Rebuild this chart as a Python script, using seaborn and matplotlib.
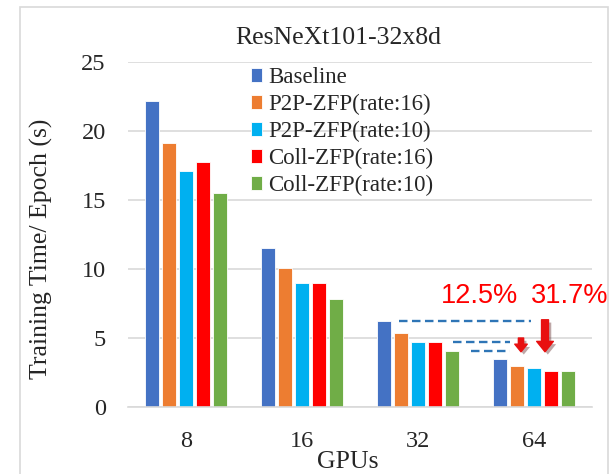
import matplotlib
matplotlib.use("Agg")
import matplotlib.pyplot as plt
import matplotlib.patheffects as pe
from matplotlib.patches import Rectangle
import seaborn as sns
import pandas as pd

# ---- data ----
gpus = ["8", "16", "32", "64"]
methods = ["Baseline", "P2P-ZFP(rate:16)", "P2P-ZFP(rate:10)",
           "Coll-ZFP(rate:16)", "Coll-ZFP(rate:10)"]
baseline = [22.2, 11.5, 6.2, 3.45]
p2p_16 = [19.1, 10.1, 5.35, 3.0]
p2p_10 = [17.1, 8.95, 4.7, 2.85]
coll_16 = [17.75, 9.0, 4.7, 2.6]
coll_10 = [15.5, 7.8, 4.05, 2.6]
colors = ["#4472C4", "#ED7D31", "#00B0F0", "#FF0000", "#70AD47"]
yticks = [0, 5, 10, 15, 20, 25]
pct_labels = ["12.5%", "31.7%"]

series = [baseline, p2p_16, p2p_10, coll_16, coll_10]
rows = []
for m, vals in zip(methods, series):
    for g, v in zip(gpus, vals):
        rows.append({"GPUs": g, "Method": m, "Time": v})
df = pd.DataFrame(rows)

sns.set_theme(style="white")
plt.rcParams["font.family"] = ["Liberation Serif", "DejaVu Serif"]

fig = plt.figure(figsize=(6.10, 4.74), dpi=100)
ax = fig.add_axes([128/610, 1-407/474, 464/610, 345/474])

sns.barplot(data=df, x="GPUs", y="Time", hue="Method", order=gpus,
            hue_order=methods, palette=colors, saturation=1,
            width=0.74, gap=0.2, edgecolor="white", linewidth=0.6, ax=ax)

ax.set_ylim(0, 25)
ax.set_xlim(-0.5, 3.5)
ax.set_yticks(yticks)
ax.set_yticklabels([str(t) for t in yticks])
ax.yaxis.grid(True, color="#D9D9D9", linewidth=1.2)
ax.set_axisbelow(True)
for s in ["left", "right", "top"]:
    ax.spines[s].set_visible(False)
ax.spines["bottom"].set_color("#D9D9D9")
ax.spines["bottom"].set_linewidth(1.2)
ax.tick_params(axis="y", length=0, pad=16, labelsize=17.5)
ax.tick_params(axis="x", length=0, pad=17, labelsize=17.5)

ax.set_xlabel("GPUs", fontsize=18.5)
ax.xaxis.set_label_coords((348-128)/464, -0.128)
ax.set_ylabel("Training Time/ Epoch (s)", fontsize=18.5, va="center")
ax.yaxis.set_label_coords((41-128)/464, (407-249)/345)

fig.text(338/610, 1-38/474, "ResNeXt101-32x8d", fontsize=18.5,
         ha="center", va="center")

leg = ax.legend(loc="upper left", bbox_to_anchor=((251-128)/464, 1 - 5/345),
                frameon=False, fontsize=16.5, handlelength=0.5,
                handleheight=0.55, handletextpad=0.25, labelspacing=0.26,
                borderpad=0, borderaxespad=0)

# ---- annotations ----
dash_kw = dict(color="#2E75B6", linewidth=1.7, linestyle=(0, (3.6, 1.9)))
ax.plot([1.836, 2.974], [baseline[2], baseline[2]], **dash_kw)
ax.plot([2.302, 2.793], [coll_16[2], coll_16[2]], **dash_kw)
ax.plot([2.457, 2.793], [coll_10[2], coll_10[2]], **dash_kw)

shadow = [pe.SimplePatchShadow(offset=(2, -2), alpha=0.35), pe.Normal()]
ax.annotate("", xy=(2.888, coll_10[2] - 0.05), xytext=(2.888, 5.0),
            arrowprops=dict(arrowstyle="simple,head_width=9,head_length=5.5,tail_width=3.8",
                            mutation_scale=1, color="#E81010", shrinkA=0, shrinkB=0,
                            path_effects=shadow))
ax.annotate("", xy=(3.095, coll_10[2] - 0.05), xytext=(3.095, 6.32),
            arrowprops=dict(arrowstyle="simple,head_width=12,head_length=7.5,tail_width=5",
                            mutation_scale=1, color="#E81010", shrinkA=0, shrinkB=0,
                            path_effects=shadow))

ax.text(2.534, 8.05, pct_labels[0], color="#FF0000", fontsize=19.5,
        family=["Liberation Sans", "DejaVu Sans"], ha="center", va="center")
ax.text(3.31, 8.05, pct_labels[1], color="#FF0000", fontsize=19.5,
        family=["Liberation Sans", "DejaVu Sans"], ha="center", va="center",
        clip_on=False)

# figure border
fig.patches.append(Rectangle((20/610, -0.05), (608-20)/610, 1.05-7/474,
                             transform=fig.transFigure, fill=False,
                             edgecolor="#D9D9D9", linewidth=1.2))

fig.savefig("out.png", dpi=100)
